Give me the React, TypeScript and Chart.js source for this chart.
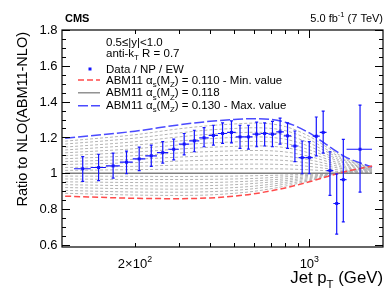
import React, { useEffect, useRef } from "react";
import { Chart, registerables } from "chart.js";

Chart.register(...registerables);

// ---------------- data ----------------
// Jet pT bins (GeV), 0.5 <= |y| < 1.0
const binLow = [114, 133, 153, 174, 196, 220, 245, 272, 300, 330, 362, 395, 430, 468, 507, 548, 592, 638, 686, 737, 790, 846, 905, 967, 1032, 1101, 1172, 1248, 1327, 1410];
const binHigh = [133, 153, 174, 196, 220, 245, 272, 300, 330, 362, 395, 430, 468, 507, 548, 592, 638, 686, 737, 790, 846, 905, 967, 1032, 1101, 1172, 1248, 1327, 1410, 1784];
// Data / NP / EW ratio to NLO(ABM11)
const dataRatio = [1.025, 1.032, 1.041, 1.062, 1.080, 1.097, 1.115, 1.134, 1.163, 1.181, 1.198, 1.211, 1.222, 1.228, 1.203, 1.203, 1.218, 1.222, 1.218, 1.231, 1.209, 1.152, 1.087, 1.087, 1.207, 1.228, 1.015, 0.831, 0.964, 1.134];
const dataLow = [0.955, 0.959, 0.973, 0.997, 1.015, 1.038, 1.056, 1.075, 1.102, 1.120, 1.148, 1.157, 1.167, 1.170, 1.139, 1.135, 1.148, 1.152, 1.148, 1.163, 1.139, 1.065, 0.997, 0.997, 1.097, 1.112, 0.876, 0.660, 0.728, 0.894];
const dataHigh = [1.093, 1.106, 1.112, 1.124, 1.146, 1.157, 1.176, 1.190, 1.222, 1.240, 1.255, 1.268, 1.281, 1.292, 1.268, 1.268, 1.286, 1.281, 1.290, 1.308, 1.281, 1.236, 1.180, 1.176, 1.314, 1.347, 1.120, 0.996, 1.189, 1.380];

// Theory curves: ABM11 with alpha_s(MZ) = 0.110 ... 0.130
const curvePt = [105, 200, 300, 400, 500, 600, 800, 1000, 1200, 1400, 1784];
const alphaValues = [0.110, 0.111, 0.112, 0.113, 0.114, 0.115, 0.116, 0.117, 0.118, 0.119, 0.120, 0.121, 0.122, 0.123, 0.124, 0.125, 0.126, 0.127, 0.128, 0.129, 0.130];
const theoryCurves = [
  [0.872, 0.860, 0.858, 0.862, 0.872, 0.885, 0.918, 0.952, 0.985, 1.010, 1.040],
  [0.888, 0.878, 0.876, 0.879, 0.888, 0.899, 0.928, 0.958, 0.987, 1.009, 1.035],
  [0.904, 0.895, 0.894, 0.897, 0.904, 0.914, 0.939, 0.964, 0.989, 1.008, 1.030],
  [0.920, 0.913, 0.911, 0.914, 0.920, 0.928, 0.949, 0.970, 0.991, 1.006, 1.025],
  [0.936, 0.930, 0.929, 0.931, 0.936, 0.943, 0.959, 0.976, 0.993, 1.005, 1.020],
  [0.952, 0.948, 0.947, 0.948, 0.952, 0.957, 0.969, 0.982, 0.994, 1.004, 1.015],
  [0.968, 0.965, 0.965, 0.966, 0.968, 0.971, 0.980, 0.988, 0.996, 1.003, 1.010],
  [0.984, 0.983, 0.982, 0.983, 0.984, 0.986, 0.990, 0.994, 0.998, 1.001, 1.005],
  [1.000, 1.000, 1.000, 1.000, 1.000, 1.000, 1.000, 1.000, 1.000, 1.000, 1.000],
  [1.016, 1.020, 1.023, 1.024, 1.025, 1.025, 1.024, 1.019, 1.013, 1.008, 1.003],
  [1.032, 1.039, 1.045, 1.048, 1.050, 1.051, 1.048, 1.038, 1.025, 1.015, 1.006],
  [1.049, 1.059, 1.068, 1.073, 1.075, 1.076, 1.071, 1.056, 1.038, 1.023, 1.009],
  [1.065, 1.078, 1.090, 1.097, 1.100, 1.102, 1.095, 1.075, 1.050, 1.030, 1.012],
  [1.081, 1.098, 1.113, 1.121, 1.125, 1.127, 1.119, 1.094, 1.063, 1.038, 1.015],
  [1.098, 1.118, 1.135, 1.145, 1.150, 1.153, 1.143, 1.113, 1.075, 1.045, 1.018],
  [1.114, 1.137, 1.158, 1.169, 1.175, 1.178, 1.166, 1.131, 1.088, 1.053, 1.020],
  [1.130, 1.157, 1.180, 1.193, 1.200, 1.203, 1.190, 1.150, 1.100, 1.060, 1.023],
  [1.146, 1.176, 1.203, 1.218, 1.225, 1.229, 1.214, 1.169, 1.113, 1.068, 1.026],
  [1.163, 1.196, 1.225, 1.242, 1.250, 1.254, 1.238, 1.188, 1.125, 1.075, 1.029],
  [1.179, 1.215, 1.248, 1.266, 1.275, 1.280, 1.261, 1.206, 1.138, 1.083, 1.032],
  [1.195, 1.235, 1.270, 1.290, 1.300, 1.305, 1.285, 1.225, 1.150, 1.090, 1.035],
];

// Axis ranges and ticks
const xMin = 102;
const xMax = 1974;
const yMin = 0.588;
const yMax = 1.8;
const yMajorTicks = [0.6, 0.8, 1.0, 1.2, 1.4, 1.6, 1.8];
const yTickLabels = ["0.6", "0.8", "1", "1.2", "1.4", "1.6", "1.8"];
const xMajorTicks = [1000];
const xMinorTicks = [200, 300, 400, 500, 600, 700, 800, 900];
const xLabelTicks = [200, 1000];
const xLabelMantissa = ["2\u00d710", "10"];
const xLabelExponent = ["2", "3"];

// ---------------- styling ----------------
const FONT = '"Liberation Sans", Arial, Helvetica, sans-serif';
const BLUE = "rgb(20,20,255)";
const RED_CURVE = "#ff4a4a";
const BLUE_CURVE = "#4a4aff";
const GRAY_SOLID = "#808080";
const GRAY_DASH = "#b4b4b4";

type Seg = { t: string; s?: "sub" | "sup" };

function drawRich(
  ctx: CanvasRenderingContext2D,
  segs: Seg[],
  x: number,
  y: number,
  size: number,
  align: "left" | "right" | "center",
  bold = false,
  color = "#000"
) {
  const base = `${bold ? "bold " : ""}${size}px ${FONT}`;
  const small = `${bold ? "bold " : ""}${(size * 0.68).toFixed(1)}px ${FONT}`;
  let w = 0;
  const widths = segs.map((sg) => {
    ctx.font = sg.s ? small : base;
    const m = ctx.measureText(sg.t).width;
    w += m;
    return m;
  });
  let cx = align === "left" ? x : align === "right" ? x - w : x - w / 2;
  ctx.textAlign = "left";
  ctx.textBaseline = "alphabetic";
  ctx.fillStyle = color;
  segs.forEach((sg, i) => {
    ctx.font = sg.s ? small : base;
    const dy = sg.s === "sub" ? size * 0.28 : sg.s === "sup" ? -size * 0.42 : 0;
    ctx.fillText(sg.t, cx, y + dy);
    cx += widths[i];
  });
}

const rootStylePlugin = {
  id: "rootStyle",
  afterDatasetsDraw(chart: any) {
    const { ctx, chartArea: a, scales } = chart;
    const xs = scales.x;
    const ys = scales.y;
    ctx.save();
    ctx.beginPath();
    ctx.rect(a.left, a.top, a.right - a.left, a.bottom - a.top);
    ctx.clip();
    ctx.strokeStyle = BLUE;
    ctx.lineWidth = 1.2;
    for (let i = 0; i < dataRatio.length; i++) {
      const xc = xs.getPixelForValue((binLow[i] + binHigh[i]) / 2);
      const xl = xs.getPixelForValue(binLow[i]);
      const xh = xs.getPixelForValue(binHigh[i]);
      const y = ys.getPixelForValue(dataRatio[i]);
      const yl = ys.getPixelForValue(dataLow[i]);
      const yh = ys.getPixelForValue(dataHigh[i]);
      ctx.beginPath();
      ctx.moveTo(xl, y);
      ctx.lineTo(xh, y);
      ctx.moveTo(xc, yl);
      ctx.lineTo(xc, yh);
      ctx.moveTo(xc - 1.5, yl);
      ctx.lineTo(xc + 1.5, yl);
      ctx.moveTo(xc - 1.5, yh);
      ctx.lineTo(xc + 1.5, yh);
      ctx.stroke();
    }
    ctx.restore();
  },
  afterDraw(chart: any) {
    const { ctx, chartArea: a, scales } = chart;
    const xs = scales.x;
    const ys = scales.y;
    ctx.save();
    // frame
    ctx.strokeStyle = "#000";
    ctx.lineWidth = 1.2;
    ctx.strokeRect(a.left, a.top, a.right - a.left, a.bottom - a.top);

    // y ticks (both sides), minor every 0.05
    ctx.lineWidth = 1;
    ctx.beginPath();
    for (let k = 0; k <= 24; k++) {
      const v = 0.6 + k * 0.05;
      const py = Math.round(ys.getPixelForValue(v)) + 0.5;
      const major = k % 4 === 0;
      const len = major ? 8 : 4;
      ctx.moveTo(a.left, py);
      ctx.lineTo(a.left + len, py);
      ctx.moveTo(a.right, py);
      ctx.lineTo(a.right - len, py);
    }
    // x ticks (bottom and top)
    [...xMajorTicks, ...xMinorTicks].forEach((v) => {
      const px = Math.round(xs.getPixelForValue(v)) + 0.5;
      const len = xMajorTicks.includes(v) ? 8 : 4;
      ctx.moveTo(px, a.bottom);
      ctx.lineTo(px, a.bottom - len);
      ctx.moveTo(px, a.top);
      ctx.lineTo(px, a.top + len);
    });
    ctx.stroke();

    // y tick labels
    ctx.fillStyle = "#000";
    ctx.font = `13px ${FONT}`;
    ctx.textAlign = "right";
    ctx.textBaseline = "middle";
    yMajorTicks.forEach((v, i) => {
      ctx.fillText(yTickLabels[i], a.left - 4.5, ys.getPixelForValue(v) + 0.5);
    });

    // x tick labels
    xLabelTicks.forEach((v, i) => {
      drawRich(
        ctx,
        [{ t: xLabelMantissa[i] }, { t: xLabelExponent[i], s: "sup" }],
        xs.getPixelForValue(v),
        a.bottom + 20.5,
        13,
        "center"
      );
    });

    // axis titles
    drawRich(ctx, [{ t: "Jet p" }, { t: "T", s: "sub" }, { t: " (GeV)" }], a.right, 283, 16.8, "right");
    ctx.save();
    ctx.translate(27, a.top + 2);
    ctx.rotate(-Math.PI / 2);
    drawRich(ctx, [{ t: "Ratio to NLO(ABM11-NLO)" }], 0, 0, 14.5, "right");
    ctx.restore();

    // header
    drawRich(ctx, [{ t: "CMS" }], 65, 21.5, 11, "left", true);
    drawRich(ctx, [{ t: "5.0 fb" }, { t: "-1", s: "sup" }, { t: " (7 TeV)" }], a.right, 21.5, 11, "right");

    // legend
    const tx = 106;
    const fs = 11.5;
    drawRich(ctx, [{ t: "0.5\u2264|y|<1.0" }], tx, 45.5, fs, "left");
    drawRich(ctx, [{ t: "anti-k" }, { t: "T", s: "sub" }, { t: " R = 0.7" }], tx, 56.5, fs, "left");
    drawRich(ctx, [{ t: "Data / NP / EW" }], tx, 72.8, fs, "left");
    ctx.fillStyle = BLUE;
    ctx.fillRect(88.5, 67.5, 3, 3);

    const alphaSegs = (rest: string): Seg[] => [
      { t: "ABM11 \u03b1" },
      { t: "s", s: "sub" },
      { t: "(M" },
      { t: "Z", s: "sub" },
      { t: rest },
    ];
    const rows = [
      { y: 83.5, rest: ") = 0.110 - Min. value", color: RED_CURVE, dash: [6, 3], w: 1.5 },
      { y: 96.3, rest: ") = 0.118", color: GRAY_SOLID, dash: [], w: 1.3 },
      { y: 109.2, rest: ") = 0.130 - Max. value", color: BLUE_CURVE, dash: [10, 3], w: 1.5 },
    ];
    rows.forEach((r) => {
      ctx.save();
      ctx.strokeStyle = r.color;
      ctx.lineWidth = r.w;
      ctx.setLineDash(r.dash);
      ctx.beginPath();
      ctx.moveTo(78, r.y - 3.5);
      ctx.lineTo(100, r.y - 3.5);
      ctx.stroke();
      ctx.restore();
      drawRich(ctx, alphaSegs(r.rest), tx, r.y, fs, "left");
    });

    ctx.restore();
  },
};

export default function App() {
  const canvasRef = useRef<HTMLCanvasElement | null>(null);

  useEffect(() => {
    const canvas = canvasRef.current;
    if (!canvas) return;

    const curveDatasets = alphaValues.map((a, i) => {
      const isMin = i === 0;
      const isMax = i === alphaValues.length - 1;
      const isCentral = Math.abs(a - 0.118) < 1e-9;
      return {
        type: "line" as const,
        data: curvePt.map((x, j) => ({ x, y: theoryCurves[i][j] })),
        borderColor: isMin ? RED_CURVE : isMax ? BLUE_CURVE : isCentral ? GRAY_SOLID : GRAY_DASH,
        borderDash: isCentral ? [] : isMin ? [6, 3] : isMax ? [10, 3] : [3, 2],
        borderWidth: isMin || isMax ? 1.5 : isCentral ? 1.3 : 1,
        pointRadius: 0,
        cubicInterpolationMode: "monotone" as const,
        fill: false,
        order: isMin || isMax ? 1 : isCentral ? 2 : 3,
      };
    });

    const dataDataset = {
      type: "scatter" as const,
      data: dataRatio.map((v, i) => ({ x: (binLow[i] + binHigh[i]) / 2, y: v })),
      pointStyle: "rect" as const,
      pointRadius: 2.1,
      backgroundColor: BLUE,
      borderWidth: 0,
      showLine: false,
      order: 0,
    };

    const chart = new Chart(canvas, {
      type: "line",
      data: { datasets: [dataDataset as any, ...curveDatasets] },
      options: {
        animation: false,
        responsive: false,
        devicePixelRatio: 1,
        events: [],
        layout: { padding: { left: 0, right: 7, top: 30, bottom: 0 } },
        plugins: {
          legend: { display: false },
          tooltip: { enabled: false },
          title: { display: false },
        },
        scales: {
          x: {
            type: "logarithmic",
            min: xMin,
            max: xMax,
            ticks: { display: false },
            grid: { display: false, drawTicks: false },
            border: { display: false },
            afterFit: (s: any) => {
              s.height = 55;
            },
          },
          y: {
            type: "linear",
            min: yMin,
            max: yMax,
            ticks: { display: false },
            grid: { display: false, drawTicks: false },
            border: { display: false },
            afterFit: (s: any) => {
              s.width = 62;
            },
          },
        },
      } as any,
      plugins: [rootStylePlugin],
    });

    return () => chart.destroy();
  }, []);

  return (
    <div style={{ position: "fixed", left: 0, top: 0, width: 390, height: 302, background: "#fff" }}>
      <canvas ref={canvasRef} width={390} height={302} style={{ width: 390, height: 302, display: "block" }} />
    </div>
  );
}
